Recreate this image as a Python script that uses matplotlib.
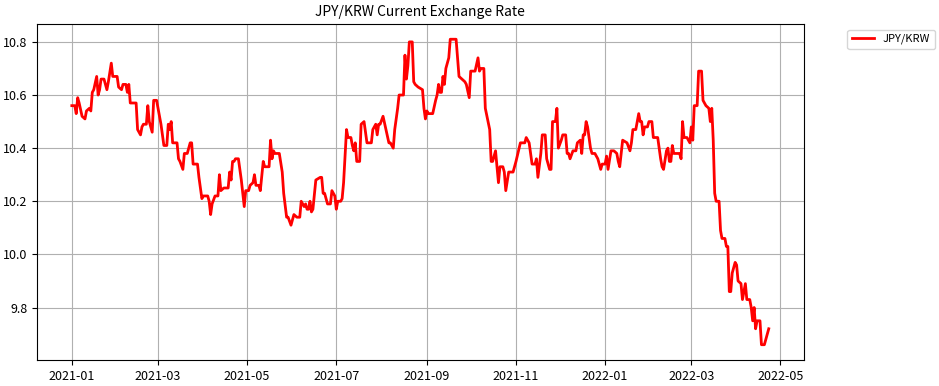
import matplotlib
matplotlib.use('Agg')
import matplotlib.pyplot as plt
import pandas as pd

# JPY/KRW (per 1 yen)
dates = [
    '2021-01-01', '2021-01-03', '2021-01-04', '2021-01-05', '2021-01-06', '2021-01-08',
    '2021-01-10', '2021-01-11', '2021-01-13', '2021-01-14', '2021-01-15', '2021-01-16',
    '2021-01-18', '2021-01-19', '2021-01-20', '2021-01-21', '2021-01-23', '2021-01-25',
    '2021-01-26', '2021-01-28', '2021-01-29', '2021-02-01', '2021-02-02', '2021-02-04',
    '2021-02-05', '2021-02-07', '2021-02-08', '2021-02-09', '2021-02-10', '2021-02-14',
    '2021-02-15', '2021-02-17', '2021-02-18', '2021-02-19', '2021-02-21', '2021-02-22',
    '2021-02-23', '2021-02-25', '2021-02-26', '2021-02-28', '2021-03-02', '2021-03-03',
    '2021-03-05', '2021-03-07', '2021-03-08', '2021-03-09', '2021-03-10', '2021-03-11',
    '2021-03-14', '2021-03-15', '2021-03-16', '2021-03-18', '2021-03-19', '2021-03-21',
    '2021-03-23', '2021-03-24', '2021-03-25', '2021-03-28', '2021-03-29', '2021-03-31',
    '2021-04-01', '2021-04-04', '2021-04-05', '2021-04-06', '2021-04-07', '2021-04-09',
    '2021-04-11', '2021-04-12', '2021-04-13', '2021-04-15', '2021-04-18', '2021-04-19',
    '2021-04-20', '2021-04-21', '2021-04-22', '2021-04-23', '2021-04-25', '2021-04-27',
    '2021-04-29', '2021-04-30', '2021-05-02', '2021-05-03', '2021-05-05', '2021-05-06',
    '2021-05-07', '2021-05-09', '2021-05-10', '2021-05-12', '2021-05-13', '2021-05-16',
    '2021-05-17', '2021-05-18', '2021-05-19', '2021-05-20', '2021-05-23', '2021-05-25',
    '2021-05-26', '2021-05-28', '2021-05-29', '2021-05-31', '2021-06-01', '2021-06-02',
    '2021-06-04', '2021-06-06', '2021-06-07', '2021-06-09', '2021-06-10', '2021-06-11',
    '2021-06-12', '2021-06-13', '2021-06-14', '2021-06-15', '2021-06-17', '2021-06-20',
    '2021-06-21', '2021-06-22', '2021-06-23', '2021-06-25', '2021-06-27', '2021-06-28',
    '2021-06-30', '2021-07-01', '2021-07-02', '2021-07-04', '2021-07-05', '2021-07-06',
    '2021-07-08', '2021-07-09', '2021-07-11', '2021-07-12', '2021-07-13', '2021-07-14',
    '2021-07-15', '2021-07-17', '2021-07-18', '2021-07-20', '2021-07-21', '2021-07-22',
    '2021-07-25', '2021-07-26', '2021-07-28', '2021-07-29', '2021-07-30', '2021-07-31',
    '2021-08-02', '2021-08-04', '2021-08-06', '2021-08-07', '2021-08-09', '2021-08-10',
    '2021-08-12', '2021-08-13', '2021-08-16', '2021-08-17', '2021-08-18', '2021-08-19',
    '2021-08-20', '2021-08-22', '2021-08-23', '2021-08-24', '2021-08-26', '2021-08-29',
    '2021-08-30', '2021-08-31', '2021-09-01', '2021-09-02', '2021-09-05', '2021-09-07',
    '2021-09-08', '2021-09-09', '2021-09-10', '2021-09-11', '2021-09-12', '2021-09-13',
    '2021-09-14', '2021-09-16', '2021-09-17', '2021-09-21', '2021-09-23', '2021-09-25',
    '2021-09-27', '2021-09-28', '2021-09-30', '2021-10-01', '2021-10-04', '2021-10-06',
    '2021-10-07', '2021-10-08', '2021-10-10', '2021-10-11', '2021-10-14', '2021-10-15',
    '2021-10-16', '2021-10-18', '2021-10-19', '2021-10-20', '2021-10-21', '2021-10-23',
    '2021-10-24', '2021-10-25', '2021-10-27', '2021-10-30', '2021-11-01', '2021-11-04',
    '2021-11-07', '2021-11-08', '2021-11-10', '2021-11-12', '2021-11-14', '2021-11-15',
    '2021-11-16', '2021-11-18', '2021-11-19', '2021-11-21', '2021-11-22', '2021-11-24',
    '2021-11-25', '2021-11-26', '2021-11-28', '2021-11-29', '2021-11-30', '2021-12-02',
    '2021-12-03', '2021-12-05', '2021-12-06', '2021-12-07', '2021-12-08', '2021-12-10',
    '2021-12-12', '2021-12-13', '2021-12-15', '2021-12-16', '2021-12-17', '2021-12-18',
    '2021-12-19', '2021-12-20', '2021-12-22', '2021-12-23', '2021-12-25', '2021-12-27',
    '2021-12-29', '2021-12-30', '2022-01-01', '2022-01-02', '2022-01-03', '2022-01-05',
    '2022-01-07', '2022-01-09', '2022-01-10', '2022-01-11', '2022-01-13', '2022-01-16',
    '2022-01-18', '2022-01-19', '2022-01-20', '2022-01-22', '2022-01-24', '2022-01-25',
    '2022-01-26', '2022-01-27', '2022-01-28', '2022-01-30', '2022-01-31', '2022-02-02',
    '2022-02-03', '2022-02-06', '2022-02-07', '2022-02-08', '2022-02-09', '2022-02-10',
    '2022-02-12', '2022-02-13', '2022-02-14', '2022-02-15', '2022-02-16', '2022-02-17',
    '2022-02-21', '2022-02-22', '2022-02-23', '2022-02-24', '2022-02-26', '2022-02-28',
    '2022-03-01', '2022-03-02', '2022-03-03', '2022-03-05', '2022-03-06', '2022-03-08',
    '2022-03-09', '2022-03-11', '2022-03-13', '2022-03-14', '2022-03-15', '2022-03-16',
    '2022-03-17', '2022-03-18', '2022-03-20', '2022-03-21', '2022-03-22', '2022-03-24',
    '2022-03-25', '2022-03-26', '2022-03-27', '2022-03-28', '2022-03-29', '2022-03-31',
    '2022-04-01', '2022-04-02', '2022-04-04', '2022-04-05', '2022-04-06', '2022-04-07',
    '2022-04-08', '2022-04-10', '2022-04-11', '2022-04-12', '2022-04-13', '2022-04-14',
    '2022-04-15', '2022-04-17', '2022-04-18', '2022-04-20', '2022-04-21', '2022-04-23',
]

rates = [
    10.56, 10.56, 10.53, 10.59, 10.57, 10.52,
    10.51, 10.54, 10.55, 10.54, 10.61, 10.62,
    10.67, 10.60, 10.62, 10.66, 10.66, 10.62,
    10.65, 10.72, 10.67, 10.67, 10.63, 10.62,
    10.64, 10.64, 10.61, 10.64, 10.57, 10.57,
    10.47, 10.45, 10.48, 10.49, 10.49, 10.56,
    10.50, 10.46, 10.58, 10.58, 10.52, 10.49,
    10.41, 10.41, 10.49, 10.47, 10.50, 10.42,
    10.42, 10.36, 10.35, 10.32, 10.38, 10.38,
    10.42, 10.42, 10.34, 10.34, 10.29, 10.21,
    10.22, 10.22, 10.20, 10.15, 10.19, 10.22,
    10.22, 10.30, 10.24, 10.25, 10.25, 10.31,
    10.28, 10.35, 10.35, 10.36, 10.36, 10.28,
    10.18, 10.24, 10.24, 10.26, 10.27, 10.30,
    10.26, 10.26, 10.24, 10.35, 10.33, 10.33,
    10.43, 10.36, 10.39, 10.38, 10.38, 10.31,
    10.23, 10.14, 10.14, 10.11, 10.13, 10.15,
    10.14, 10.14, 10.20, 10.18, 10.19, 10.17,
    10.17, 10.20, 10.16, 10.17, 10.28, 10.29,
    10.29, 10.23, 10.23, 10.19, 10.19, 10.24,
    10.22, 10.17, 10.20, 10.20, 10.21, 10.27,
    10.47, 10.44, 10.44, 10.41, 10.39, 10.42,
    10.35, 10.35, 10.49, 10.50, 10.46, 10.42,
    10.42, 10.47, 10.49, 10.45, 10.49, 10.49,
    10.52, 10.47, 10.42, 10.42, 10.40, 10.47,
    10.55, 10.60, 10.60, 10.75, 10.66, 10.71,
    10.80, 10.80, 10.65, 10.64, 10.63, 10.62,
    10.55, 10.51, 10.54, 10.53, 10.53, 10.58,
    10.60, 10.64, 10.61, 10.61, 10.67, 10.64,
    10.70, 10.74, 10.81, 10.81, 10.67, 10.66,
    10.65, 10.64, 10.59, 10.69, 10.69, 10.74,
    10.69, 10.70, 10.70, 10.55, 10.47, 10.35,
    10.35, 10.39, 10.33, 10.27, 10.33, 10.33,
    10.31, 10.24, 10.31, 10.31, 10.35, 10.42,
    10.42, 10.44, 10.42, 10.34, 10.34, 10.36,
    10.29, 10.38, 10.45, 10.45, 10.36, 10.32,
    10.32, 10.50, 10.50, 10.55, 10.40, 10.43,
    10.45, 10.45, 10.38, 10.38, 10.36, 10.39,
    10.39, 10.42, 10.43, 10.38, 10.45, 10.45,
    10.50, 10.48, 10.40, 10.38, 10.38, 10.36,
    10.32, 10.34, 10.34, 10.37, 10.32, 10.39,
    10.39, 10.38, 10.35, 10.33, 10.43, 10.42,
    10.39, 10.42, 10.47, 10.47, 10.53, 10.50,
    10.50, 10.45, 10.48, 10.48, 10.50, 10.50,
    10.44, 10.44, 10.40, 10.36, 10.33, 10.32,
    10.39, 10.40, 10.35, 10.35, 10.41, 10.38,
    10.38, 10.36, 10.50, 10.44, 10.44, 10.42,
    10.48, 10.43, 10.56, 10.56, 10.69, 10.69,
    10.58, 10.56, 10.55, 10.50, 10.55, 10.43,
    10.23, 10.20, 10.20, 10.09, 10.06, 10.06,
    10.03, 10.03, 9.86, 9.86, 9.93, 9.97,
    9.96, 9.90, 9.89, 9.83, 9.86, 9.89,
    9.83, 9.83, 9.80, 9.75, 9.80, 9.72,
    9.75, 9.75, 9.66, 9.66, 9.68, 9.72,
]

series_label = 'JPY/KRW'
title = 'JPY/KRW Current Exchange Rate'

plt.rcParams['font.family'] = ['Noto Sans CJK KR', 'DejaVu Sans']

x = pd.to_datetime(dates)

fig = plt.figure(figsize=(9.39, 3.86), dpi=100)
ax = fig.add_axes([0.0394, 0.0674, 0.8164, 0.8705])
ax.plot(x, rates, color='red', linewidth=2, label=series_label)
ax.set_title(title, fontsize=10)
ax.grid(True)
ax.tick_params(labelsize=9)
ax.legend(bbox_to_anchor=(1.05, 1), loc='upper left', fontsize=8)

fig.savefig('out.png', dpi=100)
